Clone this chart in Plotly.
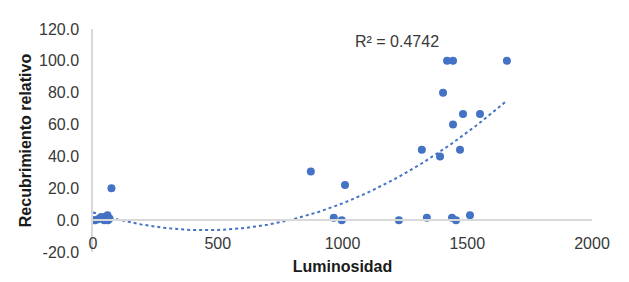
import numpy as np
import plotly.graph_objects as go

# Luminosidad (x) and Recubrimiento relativo (y)
luminosidad = [0, 8, 20, 30, 39, 45, 58, 60, 66, 74,
               873, 965, 997, 1010, 1226, 1318, 1338, 1391, 1403, 1419,
               1439, 1443, 1443, 1455, 1471, 1483, 1511, 1551, 1659]
recubrimiento = [0, 0, 0.6, 1.5, 2, 0, 3, 0, 1, 20,
                 30.5, 1.5, 0, 22, 0, 44.2, 1.5, 40, 80, 100,
                 1.5, 100, 60, 0, 44.2, 66.7, 3.1, 66.7, 100]

x_ticks = [0, 500, 1000, 1500, 2000]
y_ticks = [-20, 0, 20, 40, 60, 80, 100, 120]
y_tick_labels = ["-20.0", "0.0", "20.0", "40.0", "60.0", "80.0", "100.0", "120.0"]
r2_label = "R² = 0.4742"

blue = "#4472C4"
font_family = "Liberation Sans, Arial, sans-serif"

# order-2 polynomial trend line fitted to the data
coef = np.polyfit(luminosidad, recubrimiento, 2)
xt = np.linspace(min(luminosidad), max(luminosidad), 200)
yt = np.polyval(coef, xt)

fig = go.Figure()
fig.add_trace(go.Scatter(x=xt, y=yt, mode="lines",
                         line=dict(color=blue, width=2, dash="dot"),
                         hoverinfo="skip", showlegend=False))
fig.add_trace(go.Scatter(x=luminosidad, y=recubrimiento, mode="markers",
                         marker=dict(color=blue, size=8),
                         showlegend=False))

y0_frac = (0 - y_ticks[0]) / (y_ticks[-1] - y_ticks[0])

fig.update_layout(
    width=621, height=274,
    margin=dict(l=85, r=37, t=21, b=30),
    paper_bgcolor="white", plot_bgcolor="white",
    font=dict(family=font_family, size=16, color="#383838"),
    xaxis=dict(range=[x_ticks[0], x_ticks[-1]], tickvals=x_ticks,
               showgrid=False, zeroline=False, automargin=False,
               showline=True, linecolor="#D9D9D9", linewidth=1.5,
               anchor="free", position=y0_frac,
               ticks="", ticklabelstandoff=9,
               tickfont=dict(size=16, color="#383838"),
               title=dict(text="<b>Luminosidad</b>", standoff=9,
                          font=dict(size=16, color="#1a1a1a"))),
    yaxis=dict(range=[y_ticks[0], y_ticks[-1]], tickvals=y_ticks,
               ticktext=y_tick_labels, automargin=False,
               showgrid=False, zeroline=False,
               showline=True, linecolor="#D9D9D9", linewidth=1.5,
               ticks="", ticklabelstandoff=9,
               tickfont=dict(size=16, color="#383838"),
               title=dict(text="<b>Recubrimiento relativo</b>", standoff=3,
                          font=dict(size=16, color="#1a1a1a"))),
    annotations=[dict(x=1218, y=112, xref="x", yref="y", text=r2_label,
                      showarrow=False, xanchor="center", yanchor="middle",
                      font=dict(size=16, color="#383838"))],
)

fig.write_html("out.html")
